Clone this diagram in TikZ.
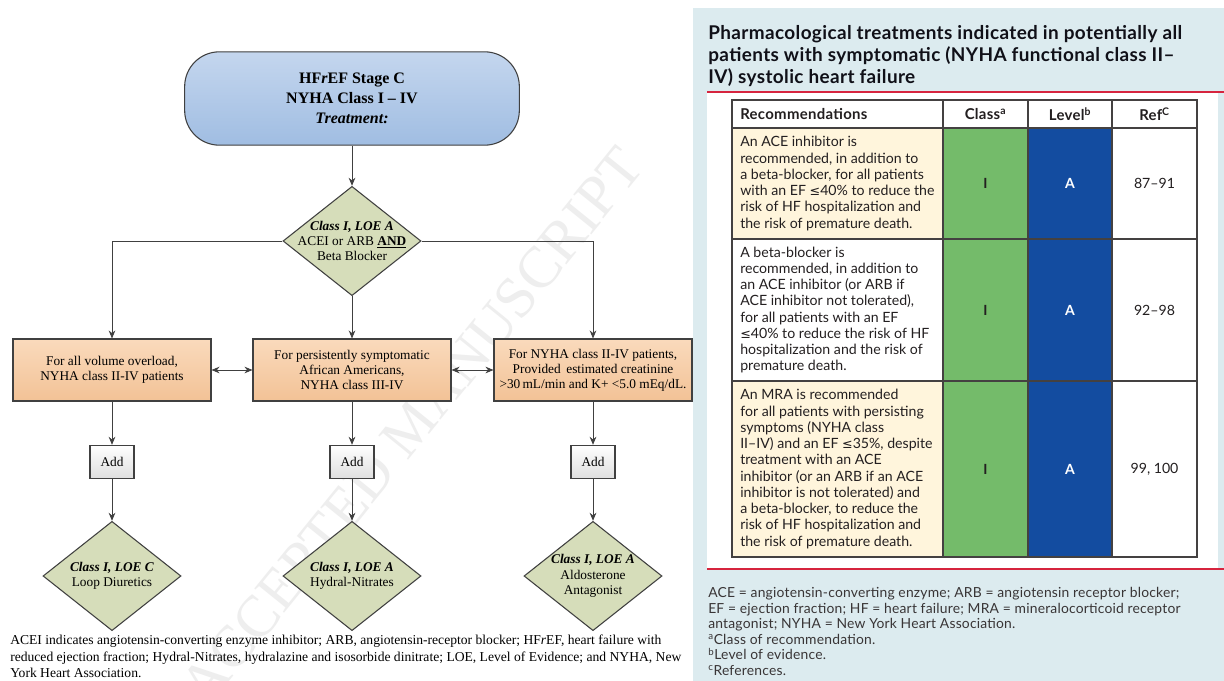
\documentclass[tikz,border=0pt]{standalone}
\usepackage{fontspec}
\setmainfont{Liberation Serif}
\newfontfamily\gill[Ligatures=TeX]{Lato}
\newfontfamily\symf{DejaVu Sans}
\usetikzlibrary{shapes.geometric,arrows.meta}

\definecolor{edge}{RGB}{64,64,64}
\definecolor{wmark}{RGB}{238,238,238}
\definecolor{termtop}{RGB}{196,214,238}
\definecolor{termbot}{RGB}{160,189,226}
\definecolor{diafill}{RGB}{214,221,186}
\definecolor{boxtop}{RGB}{250,218,188}
\definecolor{boxbot}{RGB}{242,194,150}
\definecolor{addbot}{RGB}{222,222,222}
\definecolor{panel}{RGB}{220,235,239}
\definecolor{redrule}{RGB}{214,36,62}
\definecolor{cream}{RGB}{255,245,220}
\definecolor{classgreen}{RGB}{116,187,106}
\definecolor{levelblue}{RGB}{19,76,160}
\definecolor{ink}{RGB}{35,31,32}
\definecolor{titleink}{RGB}{16,16,24}

\tikzset{
  terminal/.style={draw=edge, line width=0.8pt, rounded corners=26pt,
    minimum width=251pt, minimum height=70pt, top color=termtop, bottom color=termbot,
    align=center, font=\bfseries\fontsize{12}{15}\selectfont},
  decision/.style={diamond, draw=edge, line width=0.8pt, fill=diafill, inner sep=0pt,
    minimum width=103.5pt, minimum height=82pt},
  dtext/.style={align=center, inner sep=0pt, font=\fontsize{10}{11.4}\selectfont},
  optbox/.style={rectangle, draw=edge, line width=0.8pt, top color=boxtop, bottom color=boxbot,
    minimum width=148.5pt, minimum height=46.5pt, inner sep=0pt, align=center,
    font=\fontsize{10}{11.4}\selectfont},
  addbox/.style={rectangle, draw=edge, line width=0.8pt, top color=white, bottom color=addbot,
    minimum width=33pt, minimum height=25pt, inner sep=0pt, font=\fontsize{10}{12}\selectfont},
  conn/.style={draw=edge, line width=0.7pt, -{Stealth[length=6pt,width=5pt]}},
  both/.style={draw=edge, line width=0.7pt, {Stealth[length=6pt,width=5pt]}-{Stealth[length=6pt,width=5pt]}},
  rec/.style={anchor=west, align=left, inner sep=0pt, text=ink,
    font=\gill\fontsize{10.6}{12.2}\selectfont},
  cellmark/.style={inner sep=0pt, font=\gill\bfseries\fontsize{10.5}{12}\selectfont},
  head/.style={inner sep=0pt, text=ink, font=\gill\bfseries\fontsize{11.2}{12}\selectfont\addfontfeature{LetterSpace=2}},
  grid/.style={draw=ink!85, line width=0.9pt}
}

\begin{document}
\begin{tikzpicture}[x=0.75pt, y=-0.75pt]
\useasboundingbox (0,0) rectangle (1224,681);
\fill[white] (0,0) rectangle (1224,681);

% ---------------- flowchart ----------------
\node[rotate=51, text=wmark, font=\fontsize{44}{44}\selectfont] (wm) at (412,426) {ACCEPTED MANUSCRIPT};

\node[terminal] (start) at (352,98.5) {HF\textit{r}EF Stage C\\ NYHA Class I -- IV\\ \textit{Treatment:}};

\node[decision] (d1) at (352,241) {};
\node[dtext] (d1t) at (d1) {\textbf{\textit{Class I, LOE A}}\\ ACEI or ARB \underline{\textbf{AND}}\\ Beta Blocker};

\node[optbox] (b1) at (112,370) {For all volume overload,\\ NYHA class II-IV patients};
\node[optbox] (b2) at (352,370) {For persistently symptomatic\\ African Americans,\\ NYHA class III-IV};
\node[optbox] (b3) at (593,370) {For NYHA class II-IV patients,\\ Provided\, estimated creatinine\\ >30\,mL/min and K+ <5.0 mEq/dL.};

\node[addbox] (a1) at (112,462) {Add};
\node[addbox] (a2) at (352,462) {Add};
\node[addbox] (a3) at (593,462) {Add};

\node[decision] (e1) at (112,576) {};
\node[dtext] (e1t) at (e1) {\textbf{\textit{Class I, LOE C}}\\ Loop Diuretics};
\node[decision] (e2) at (352,576) {};
\node[dtext] (e2t) at (e2) {\textbf{\textit{Class I, LOE A}}\\ Hydral-Nitrates};
\node[decision] (e3) at (593,576) {};
\node[dtext] (e3t) at (e3) {\textbf{\textit{Class I, LOE A}}\\ Aldosterone\\ Antagonist};

\draw[conn] (start) -- (d1);
\draw[conn] (d1.west) -| (b1.north);
\draw[conn] (d1.south) -- (b2.north);
\draw[conn] (d1.east) -| (b3.north);
\draw[both] (b1) -- (b2);
\draw[both] (b2) -- (b3);
\foreach \i in {1,2,3}{
  \draw[conn] (b\i) -- (a\i);
  \draw[conn] (a\i) -- (e\i);
}

\node[anchor=north west, align=left, inner sep=0pt, font=\fontsize{10.2}{12.4}\selectfont] (legend) at (10,635)
 {ACEI indicates angiotensin-converting enzyme inhibitor; ARB, angiotensin-receptor blocker; HF\textit{r}EF, heart failure with\\
  reduced ejection fraction; Hydral-Nitrates, hydralazine and isosorbide dinitrate; LOE, Level of Evidence; and NYHA, New\\
  York Heart Association.};

% ---------------- recommendation table ----------------
\fill[panel] (693,8) rectangle (1224,681);
\fill[white] (707,93) rectangle (1218,568);
\draw[redrule, line width=1.6pt] (707,92) -- (1224,92);
\draw[redrule, line width=1.6pt] (707,569) -- (1224,569);

\node[anchor=north west, align=left, inner sep=0pt, text=titleink,
  font=\gill\bfseries\fontsize{14.2}{16.5}\selectfont\addfontfeature{LetterSpace=2}] (title) at (708,25)
 {Pharmacological treatments indicated in potentially all\\
  patients with symptomatic (NYHA functional class II--\\
  IV) systolic heart failure};

% cell fills
\fill[cream] (732,128) rectangle (943,239);
\fill[cream] (732,381) rectangle (943,557);
\fill[classgreen] (943,128) rectangle (1028,557);
\fill[levelblue] (1028,128) rectangle (1112,557);

% grid
\draw[grid] (732,100) rectangle (1197,557);
\draw[grid] (943,100) -- (943,557);
\draw[grid] (1028,100) -- (1028,557);
\draw[grid] (1112,100) -- (1112,557);
\draw[grid] (732,128) -- (1197,128);
\draw[grid] (732,239) -- (1197,239);
\draw[grid] (732,381) -- (1197,381);

% header
\node[head, anchor=west] (hrec) at (740,114) {Recommendations};
\node[head] (hclass) at (985.5,114) {Class\textsuperscript{a}};
\node[head] (hlevel) at (1070,114) {Level\textsuperscript{b}};
\node[head] (href) at (1154.5,114) {Ref\textsuperscript{C}};

% rows
\node[rec] (r1) at (740,183.5) {An ACE inhibitor is\\ recommended, in addition to\\ a beta-blocker, for all patients\\ with an EF {\symf\fontsize{9.5}{12}\selectfont ≤}40\% to reduce the\\ risk of HF hospitalization and\\ the risk of premature death.};
\node[rec] (r2) at (740,310) {A beta-blocker is\\ recommended, in addition to\\ an ACE inhibitor (or ARB if\\ ACE inhibitor not tolerated),\\ for all patients with an EF\\ {\symf\fontsize{9.5}{12}\selectfont ≤}40\% to reduce the risk of HF\\ hospitalization and the risk of\\ premature death.};
\node[rec] (r3) at (740,469) {An MRA is recommended\\ for all patients with persisting\\ symptoms (NYHA class\\ II--IV) and an EF {\symf\fontsize{9.5}{12}\selectfont ≤}35\%, despite\\ treatment with an ACE\\ inhibitor (or an ARB if an ACE\\ inhibitor is not tolerated) and\\ a beta-blocker, to reduce the\\ risk of HF hospitalization and\\ the risk of premature death.};

\foreach \y/\n [count=\k] in {183.5/87--91, 310/92--98, 469/{99, 100}}{
  \node[cellmark, text=ink] (c\k) at (985.5,\y) {I};
  \node[cellmark, text=white] (l\k) at (1070,\y) {A};
  \node[inner sep=0pt, text=ink, font=\gill\fontsize{10.6}{12}\selectfont] (f\k) at (1154.5,\y) {\n};
}

\node[anchor=north west, align=left, inner sep=0pt, text=ink!90,
  font=\gill\fontsize{10.4}{11.7}\selectfont\addfontfeature{LetterSpace=1.5}] (notes) at (708,587)
 {ACE = angiotensin-converting enzyme; ARB = angiotensin receptor blocker;\\
  EF = ejection fraction; HF = heart failure; MRA = mineralocorticoid receptor\\
  antagonist; NYHA = New York Heart Association.\\
  \textsuperscript{a}Class of recommendation.\\
  \textsuperscript{b}Level of evidence.\\
  \textsuperscript{c}References.};
\end{tikzpicture}
\end{document}
